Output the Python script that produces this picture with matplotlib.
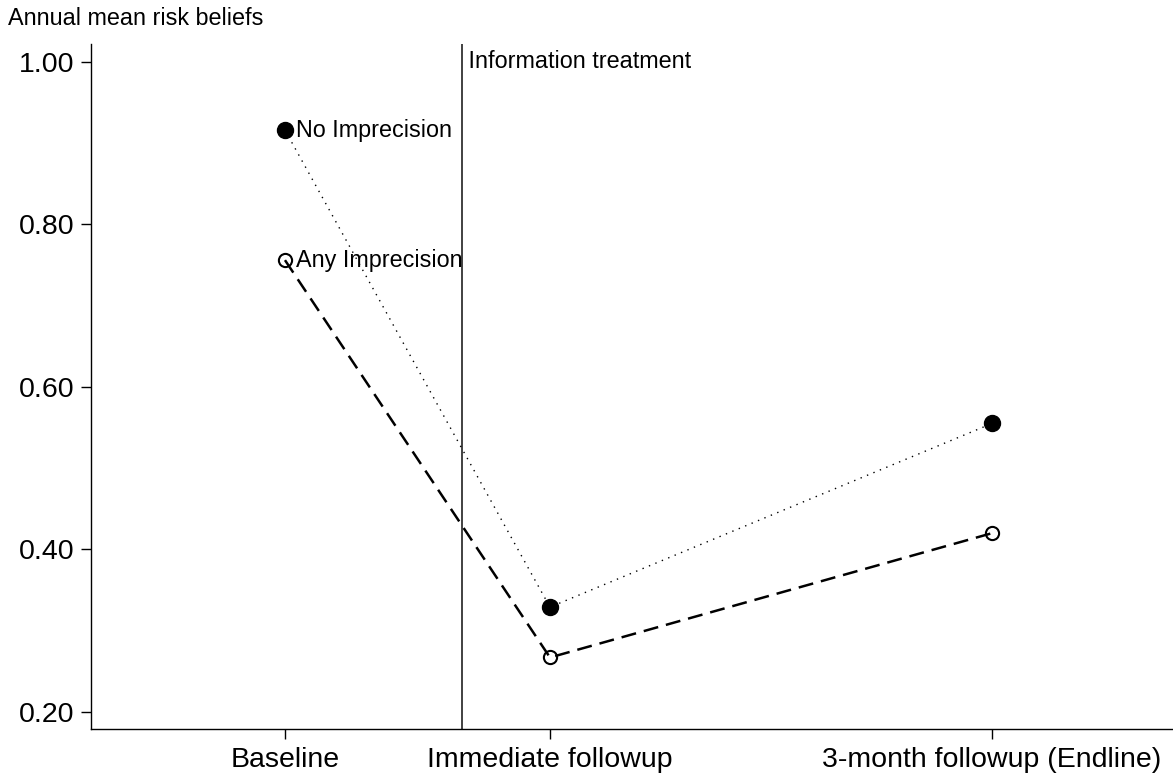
import matplotlib
matplotlib.use("Agg")
import matplotlib.pyplot as plt

plt.rcParams['font.family'] = ['Liberation Sans', 'DejaVu Sans']

# data
waves = ['Baseline', 'Immediate followup', '3-month followup (Endline)']
wave_x = [1.0, 2.0, 3.668]
no_imprecision = [0.916, 0.329, 0.555]
any_imprecision = [0.756, 0.267, 0.420]
treatment_x = 1.668
y_ticks = [0.20, 0.40, 0.60, 0.80, 1.00]


def make_plot():
    fig = plt.figure(figsize=(11.73, 7.77), dpi=100)
    ax = fig.add_axes([91/1173, 1 - 729/777, 1 - 91/1173, (729 - 44)/777])

    ax.plot(wave_x, no_imprecision, color='black', lw=1.0,
            linestyle=(0, (1, 4)), marker='o', markersize=11.5,
            markerfacecolor='black', markeredgecolor='black', zorder=3)
    ax.plot(wave_x, any_imprecision, color='black', lw=1.8,
            linestyle=(0, (6, 3.2)), marker='o', markersize=9.5,
            markerfacecolor='none', markeredgecolor='black',
            markeredgewidth=1.5, zorder=3)

    ax.axvline(treatment_x, color='#333333', lw=1.3, zorder=2)
    ax.text(treatment_x, 1.00, ' Information treatment', fontsize=16.8,
            ha='left', va='center')

    ax.annotate('No Imprecision', (wave_x[0], no_imprecision[0]),
                xytext=(8, 0), textcoords='offset points',
                fontsize=16.8, va='center', ha='left')
    ax.annotate('Any Imprecision', (wave_x[0], any_imprecision[0]),
                xytext=(8, 0), textcoords='offset points',
                fontsize=16.8, va='center', ha='left')

    ax.set_xlim(0.268, 4.351)
    ax.set_ylim(0.179, 1.022)
    ax.set_xticks(wave_x)
    ax.set_xticklabels(waves, fontsize=20.5)
    ax.set_yticks(y_ticks)
    ax.set_yticklabels(['%.2f' % v for v in y_ticks], fontsize=20.5)
    ax.tick_params(axis='both', length=7, width=1.0, direction='out')
    ax.tick_params(axis='x', pad=6)
    ax.tick_params(axis='y', pad=5)

    for s in ['top', 'right']:
        ax.spines[s].set_visible(False)
    for s in ['left', 'bottom']:
        ax.spines[s].set_linewidth(1.0)

    fig.text(8/1173, 1 - 25/777, 'Annual mean risk beliefs', fontsize=16.8,
             ha='left', va='baseline')

    fig.savefig('out.png', dpi=100)


make_plot()
